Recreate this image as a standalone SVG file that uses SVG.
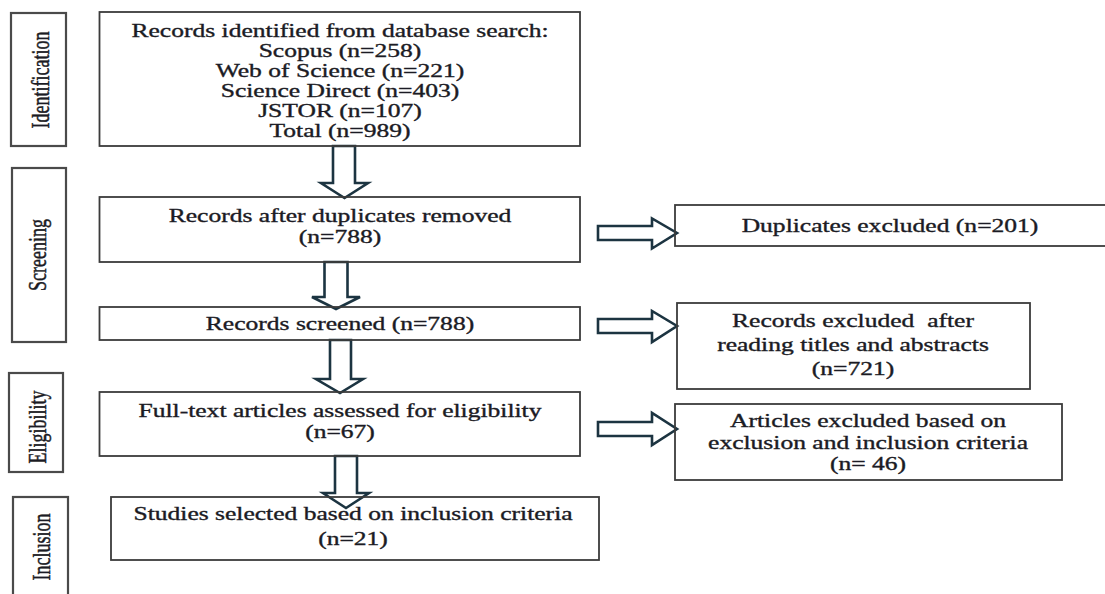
<svg xmlns="http://www.w3.org/2000/svg" width="1105" height="594" viewBox="0 0 1105 594">
<style>
.box{fill:none;stroke:#3b3b3b;stroke-width:1.8}
.lbl{fill:none;stroke:#4a4a4a;stroke-width:2.2}
.t{font-family:"Liberation Serif","Times New Roman",serif;font-size:18px;fill:#1b1b24;stroke:#1b1b24;stroke-width:0.35;text-anchor:middle}
.arr{fill:#fff;stroke:#1c3441;stroke-width:2.6;stroke-linejoin:miter}
</style>
<rect width="1105" height="594" fill="#fff"/>
<g id="connectors">
<polygon class="arr" points="333,146 355,146 355,183 368,183 344.5,198 321,183 333,183"/>
<polygon class="arr" points="324.5,262 347.5,262 347.5,297 360,297 336,309 312,297 324.5,297"/>
<polygon class="arr" points="330,340 351,340 351,379 363,379 340,393 316,379 330,379"/>
<polygon class="arr" points="335,456 357,456 357,493 369,493 346,508 323,493 335,493"/>
<polygon class="arr" points="598,226 652,226 652,218.5 677,233 652,248.5 652,240 598,240"/>
<polygon class="arr" points="598,319 652,319 652,311 677,326 652,342 652,333 598,333"/>
<polygon class="arr" points="598,422 652,422 652,413 677,429 652,445 652,436 598,436"/>
</g>
<g id="label-identification">
<rect class="lbl" x="11" y="13" width="55" height="133"/>
<text class="t" transform="translate(49,80) scale(1.42,1) rotate(-90)">Identification</text>
</g>
<g id="label-screening">
<rect class="lbl" x="12" y="168" width="54" height="174"/>
<text class="t" transform="translate(46,255) scale(1.42,1) rotate(-90)">Screening</text>
</g>
<g id="label-eligibility">
<rect class="lbl" x="9" y="373" width="54" height="99"/>
<text class="t" transform="translate(46,427) scale(1.42,1) rotate(-90)">Eligibility</text>
</g>
<g id="label-inclusion">
<rect class="lbl" x="13" y="497" width="55" height="110"/>
<text class="t" transform="translate(50,547) scale(1.42,1) rotate(-90)">Inclusion</text>
</g>
<g id="records-identified">
<rect class="box" x="99.5" y="12" width="480.5" height="134"/>
<text class="t" transform="translate(340,0) scale(1.42,1)"><tspan x="0" y="37">Records identified from database search:</tspan><tspan x="0" y="57">Scopus (n=258)</tspan><tspan x="0" y="77">Web of Science (n=221)</tspan><tspan x="0" y="97">Science Direct (n=403)</tspan><tspan x="0" y="117">JSTOR (n=107)</tspan><tspan x="0" y="137">Total (n=989)</tspan></text>
</g>
<g id="records-dedup">
<rect class="box" x="99.5" y="197" width="480.5" height="65"/>
<text class="t" transform="translate(340,0) scale(1.42,1)"><tspan x="0" y="222">Records after duplicates removed</tspan><tspan x="0" y="243">(n=788)</tspan></text>
</g>
<g id="records-screened">
<rect class="box" x="99.5" y="307" width="480.5" height="33"/>
<text class="t" transform="translate(340,330) scale(1.42,1)">Records screened (n=788)</text>
</g>
<g id="fulltext">
<rect class="box" x="99.5" y="392" width="480.5" height="64"/>
<text class="t" transform="translate(340,0) scale(1.42,1)"><tspan x="0" y="417">Full-text articles assessed for eligibility</tspan><tspan x="0" y="438">(n=67)</tspan></text>
</g>
<g id="included">
<rect class="box" x="111" y="497" width="488" height="63"/>
<text class="t" transform="translate(353,0) scale(1.42,1)"><tspan x="0" y="520">Studies selected based on inclusion criteria</tspan><tspan x="0" y="545">(n=21)</tspan></text>
</g>
<g id="duplicates-excluded">
<rect class="box" x="675" y="205" width="440" height="41"/>
<text class="t" transform="translate(890,232) scale(1.42,1)">Duplicates excluded (n=201)</text>
</g>
<g id="records-excluded">
<rect class="box" x="677" y="303" width="353" height="86"/>
<text class="t" xml:space="preserve" transform="translate(853,0) scale(1.42,1)"><tspan x="0" y="327">Records excluded  after</tspan><tspan x="0" y="351">reading titles and abstracts</tspan><tspan x="0" y="375">(n=721)</tspan></text>
</g>
<g id="articles-excluded">
<rect class="box" x="675" y="404" width="387" height="76"/>
<text class="t" transform="translate(868,0) scale(1.42,1)"><tspan x="0" y="427">Articles excluded based on</tspan><tspan x="0" y="449">exclusion and inclusion criteria</tspan><tspan x="0" y="470">(n= 46)</tspan></text>
</g>
</svg>
